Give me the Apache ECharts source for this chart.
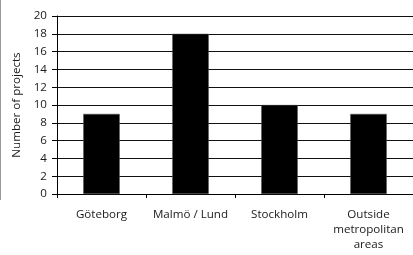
<!DOCTYPE html>
<html><head><meta charset="utf-8">
<script src="https://cdn.jsdelivr.net/npm/echarts@6/dist/echarts.min.js"></script>
<style>html,body{margin:0;padding:0;background:#fff}#c{width:413px;height:255px}</style>
</head><body><div id="c"></div>
<script>
const categories = ['Göteborg', 'Malmö / Lund', 'Stockholm', 'Outside\nmetropolitan\nareas'];
const projects = [9, 18, 10, 9];
const yAxisName = 'Number of projects';

const chart = echarts.init(document.getElementById('c'), null, {renderer: 'canvas'});
const font = 'Open Sans';
chart.setOption({
  animation: false,
  backgroundColor: '#fff',
  grid: {left: 57, right: -10, top: 16, bottom: 61},
  graphic: [{type: 'line', shape: {x1: 0.5, y1: 0, x2: 0.5, y2: 200}, style: {stroke: '#999', lineWidth: 1}}],
  xAxis: {
    type: 'category', data: categories,
    axisLine: {lineStyle: {color: '#000', width: 1}},
    axisTick: {show: true, length: 4, lineStyle: {color: '#000'}},
    axisLabel: {color: '#1a1a1a', fontFamily: font, fontSize: 11.6, margin: 13, lineHeight: 15, interval: 0}
  },
  yAxis: {
    type: 'value', min: 0, max: 20, interval: 2,
    name: yAxisName, nameLocation: 'middle', nameGap: 32, nameRotate: 90,
    nameTextStyle: {color: '#1a1a1a', fontFamily: font, fontSize: 11.6},
    axisLine: {show: true, lineStyle: {color: '#000', width: 1}},
    axisTick: {show: true, length: 5, lineStyle: {color: '#000'}},
    axisLabel: {color: '#1a1a1a', fontFamily: font, fontSize: 11.6, margin: 10},
    splitLine: {lineStyle: {color: '#111', width: 1}}
  },
  series: [{
    type: 'bar', data: projects, barWidth: '41%',
    itemStyle: {color: '#000', borderColor: '#555', borderWidth: 0.5}
  }]
});
</script></body></html>
